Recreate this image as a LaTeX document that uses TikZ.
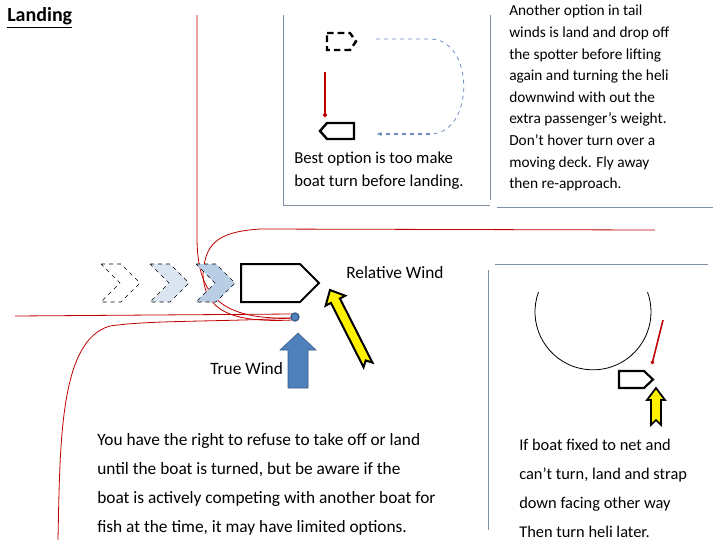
\documentclass[tikz,border=0pt]{standalone}
\usepackage{fontspec}
\setmainfont{Carlito}
\usetikzlibrary{arrows.meta,calc}
\definecolor{fr}{HTML}{7F8FA6}
\definecolor{cb1}{HTML}{DBE5F1}
\definecolor{cb2}{HTML}{B9CDE5}
\definecolor{wb}{HTML}{4F81BD}
\definecolor{wbd}{HTML}{385D8A}
\definecolor{dsh}{HTML}{6C8EBF}
\definecolor{rd}{HTML}{C00000}
\begin{document}
\begin{tikzpicture}[x=0.75pt,y=-0.75pt,
  frame/.style={draw=fr,line width=0.6pt},
  boat/.style={draw=black,line width=2pt,line join=miter},
  red/.style={draw=rd,line width=0.6pt},
  txt/.style={font=\fontsize{13}{16}\selectfont,anchor=west,inner sep=0pt},
  body/.style={font=\fontsize{11.5}{16.2}\selectfont,align=left,anchor=north west,inner sep=0pt}]
\useasboundingbox (0,0) rectangle (720,540);
% frames
\draw[frame] (283,15) -- (283,205) -- (490,205);
\draw[frame] (490,15) -- (490,200);
\draw[frame] (497,207) -- (713,207);
\draw[frame] (495,264) -- (708,264);
\draw[frame] (488,270) -- (488,530);
% title
\node[anchor=west,inner sep=0pt,font=\bfseries\fontsize{15}{17}\selectfont] (title) at (7,18) {\underline{Landing}};
% top box
\draw[boat,line width=1.8pt,dash pattern=on 5pt off 3pt] (327,33) -- (350,33) -- (356,41.5) -- (350,50) -- (327,50) -- cycle;
\coordinate (ra) at (325,72); \coordinate (rb) at (325,117);
\draw[red,line width=1pt,-{Circle[length=3pt]}] (ra) -- (rb);
\draw[boat,line width=1.8pt] (354,123) -- (327,123) -- (320,131) -- (327,139) -- (354,139) -- cycle;
\coordinate (c1) at (376,39); \coordinate (c2) at (376,134);
\draw[draw=dsh,dashed,line width=0.6pt] (c1) -- (430,39) .. controls (475,39) and (475,134) .. (430,134);
\draw[draw=dsh,dashed,line width=1.3pt,-{Latex[length=4pt]}] (430,134) -- (c2);
\node[body,font=\fontsize{12.5}{17}\selectfont] (best) at (294,152) {Best option is too make\\boat turn before landing.};
% top right text
\node[body] (tr) at (509,5) {Another option in tail\\winds is land and drop off\\the spotter before lifting\\again and turning the heli\\downwind with out the\\extra passenger's weight.\\Don't hover turn over a\\moving deck. Fly away\\then re-approach.};
% red paths
\draw[red] (197,15) -- (197,240) .. controls (198,290) and (215,320) .. (290,318);
\draw[red] (655,230) -- (260,229) .. controls (215,232) and (205,245) .. (203,275) .. controls (205,310) and (230,323) .. (292,320);
\draw[red] (15,316) -- (292,314);
\draw[red] (58,540) .. controls (60,440) and (60,340) .. (110,326) .. controls (150,320) and (220,322) .. (292,318);
% chevrons
\draw[black,dashed,fill=white] (101,264) -- (121,264) -- (140,283) -- (121,302) -- (101,302) -- (120,283) -- cycle;
\draw[black,dashed,fill=cb1] (150,264) -- (170,264) -- (189,283) -- (170,302) -- (150,302) -- (169,283) -- cycle;
\draw[black,dashed,fill=cb2] (196,264) -- (216,264) -- (235,283) -- (216,302) -- (196,302) -- (215,283) -- cycle;
% main boat
\draw[boat,line width=1.5pt,fill=white] (241,264) -- (300,264) -- (319,283) -- (300,302) -- (241,302) -- cycle;
% small icon
\node[circle,draw=wbd,fill=wb,line width=1pt,minimum size=6pt,inner sep=0pt] (icon) at (295,317) {};
% true wind arrow
\draw[fill=wb,draw=wbd] (288,388) -- (288,350) -- (280,350) -- (298,333) -- (316,350) -- (308,350) -- (308,388) -- cycle;
% relative wind arrow
\begin{scope}[shift={(330,290)},rotate=-63.1]
\draw[fill=yellow,draw=black,line width=1.5pt] (0,0) -- (12,-11) -- (12,-5) -- (84,-5) -- (79,0) -- (84,5) -- (12,5) -- (12,11) -- cycle;
\end{scope}
\node[txt] (rw) at (346,273) {Relative Wind};
\node[txt] (tw) at (210,369) {True Wind};
% bottom texts
\node[body,font=\fontsize{13}{21.7}\selectfont] (bl) at (97,433) {You have the right to refuse to take off or land\\until the boat is turned, but be aware if the\\boat is actively competing with another boat for\\fish at the time, it may have limited options.};
\node[body,font=\fontsize{12.3}{21.7}\selectfont] (br) at (519,439) {If boat fixed to net and\\can't turn, land and strap\\down facing other way\\Then turn heli later.};
% right diagram
\draw[black,line width=0.6pt] (538.5,292) arc[start angle=200,end angle=-20,radius=58];
\coordinate (la) at (663,320); \coordinate (lb) at (652,364);
\draw[red,line width=1.2pt,-{Circle[length=2.5pt]}] (la) -- (lb);
\draw[boat,line width=1.6pt,fill=white] (619,371) -- (644,371) -- (653,379.5) -- (644,388) -- (619,388) -- cycle;
\draw[fill=yellow,draw=black,line width=1.3pt] (651,425) -- (651,400) -- (647,400) -- (656,388) -- (665,400) -- (661,400) -- (661,425) -- (656,420) -- cycle;
\end{tikzpicture}
\end{document}
